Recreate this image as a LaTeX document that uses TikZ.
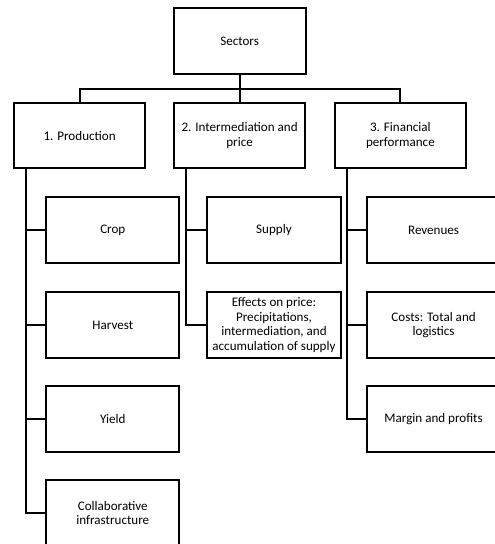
\documentclass[tikz,border=0pt]{standalone}
\usepackage{fontspec}
\setmainfont{Carlito}
\usepackage{tikz}
\usetikzlibrary{positioning}

\begin{document}
\begin{tikzpicture}[font=\fontsize{9.3}{10.4}\selectfont, line width=1.5pt, every node/.style={align=center},
    topbox/.style={draw, minimum width=3.3cm, minimum height=1.65cm, inner sep=1pt},
    catbox/.style={draw, minimum width=3.28cm, minimum height=1.63cm, inner sep=1pt},
    itembox/.style={draw, minimum width=3.33cm, minimum height=1.65cm, inner sep=1pt}]
    \useasboundingbox ({0},{0}) rectangle ({12.35},{13.6});

    \node[topbox] (sectors) at ({5.99},{12.575}) {Sectors};

    \node[catbox] (prod) at ({1.99},{10.21}) {1. Production};
    \node[catbox] (inter) at ({5.99},{10.21}) {2. Intermediation and\\price};
    \node[catbox] (fin) at ({10.01},{10.21}) {3. Financial\\performance};

    \node[itembox] (crop) at ({2.82},{7.85}) {Crop};
    \node[itembox] (harvest) at ({2.82},{5.475}) {Harvest};
    \node[itembox] (yield) at ({2.82},{3.125}) {Yield};
    \node[itembox] (collab) at ({2.82},{0.775}) {Collaborative\\infrastructure};

    \node[itembox] (supply) at ({6.85},{7.85}) {Supply};
    \node[itembox] (effects) at ({6.85},{5.475}) {Effects on price:\\Precipitations,\\intermediation, and\\accumulation of supply};

    \node[itembox] (rev) at ({10.84},{7.85}) {Revenues};
    \node[itembox] (costs) at ({10.84},{5.475}) {Costs: Total and\\logistics};
    \node[itembox] (margin) at ({10.84},{3.125}) {Margin and profits};

    \coordinate (bus) at ({5.99},{11.375});
    \draw (sectors.south) -- (bus);
    \draw (prod.north) |- (bus) -| (fin.north);
    \draw (bus) -- (inter.north);

    \foreach \c in {crop,harvest,yield,collab}
        \draw ([xshift=0.325cm]prod.south west) |- (\c.west);
    \foreach \c in {supply,effects}
        \draw ([xshift=0.325cm]inter.south west) |- (\c.west);
    \foreach \c in {rev,costs,margin}
        \draw ([xshift=0.325cm]fin.south west) |- (\c.west);
\end{tikzpicture}
\end{document}
